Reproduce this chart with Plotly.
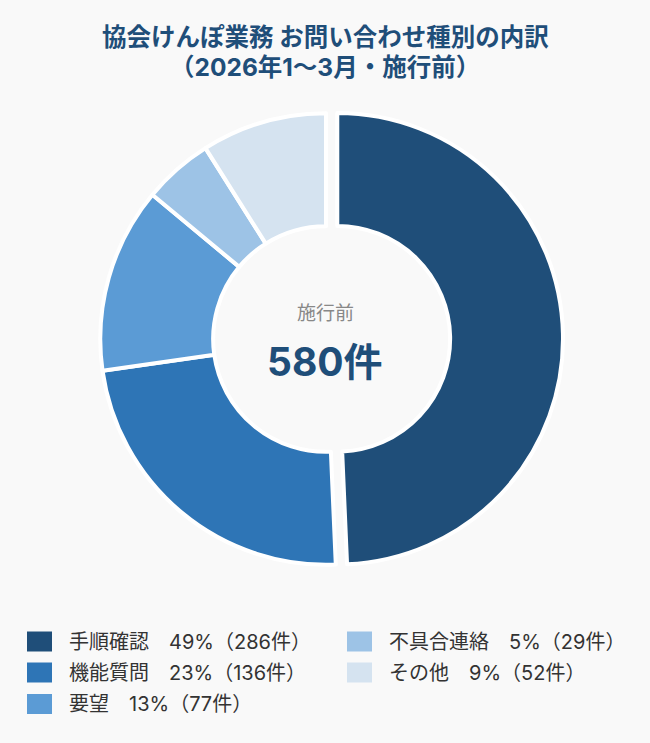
import plotly.graph_objects as go

# ---- data ----
categories = ["手順確認", "機能質問", "要望", "不具合連絡", "その他"]
counts = [286, 136, 77, 29, 52]
colors = ["#1f4e79", "#2e75b6", "#5b9bd5", "#9dc3e6", "#d5e3f0"]
title_lines = ["協会けんぽ業務 お問い合わせ種別の内訳", "（2026年1〜3月・施行前）"]
center_label = "施行前"
unit = "件"

total = sum(counts)
pcts = [round(c / total * 100) for c in counts]

W, H = 650, 743
FONT = "Inter, 'Noto Sans CJK JP', sans-serif"
BG = "#f9f9f9"

fig = go.Figure()
fig.add_trace(go.Pie(
    labels=categories,
    values=counts,
    sort=False,
    direction="clockwise",
    rotation=0,
    hole=0.5,
    pull=[0.05, 0, 0, 0, 0],
    marker=dict(colors=colors, line=dict(color="white", width=4)),
    textinfo="none",
    hoverinfo="label+value+percent",
    showlegend=False,
    domain=dict(x=[89 / W, 563 / W], y=[1 - 576 / H, 1 - 102 / H]),
))

annotations = []
shapes = []

# title (two lines placed separately)
for line, yc in zip(title_lines, [37, 67]):
    annotations.append(dict(
        text="<b>" + line + "</b>",
        x=0.5, y=1 - yc / H, xref="paper", yref="paper",
        xanchor="center", yanchor="middle", showarrow=False,
        font=dict(family=FONT, size=24.5, color="#1f4e79"),
    ))

# center texts
annotations.append(dict(
    text=center_label, x=325 / W, y=1 - 313 / H, xref="paper", yref="paper",
    xanchor="center", yanchor="middle", showarrow=False,
    font=dict(family=FONT, size=19, color="#888888"),
))
annotations.append(dict(
    text="<b>" + f"{total}{unit}" + "</b>", x=325 / W, y=1 - 361 / H,
    xref="paper", yref="paper", xanchor="center", yanchor="middle",
    showarrow=False, font=dict(family=FONT, size=39, color="#1f4e79"),
))

# custom legend (column-major, 3 rows)
rows = 3
row_y = [641.5, 672.5, 704]
col_sq_x = [27, 347]
sq_w, sq_h = 25, 20
for i, (cat, c, p, col) in enumerate(zip(categories, counts, pcts, colors)):
    ci, ri = divmod(i, rows)
    cy = row_y[ri]
    x0 = col_sq_x[ci]
    shapes.append(dict(
        type="rect", xref="paper", yref="paper",
        x0=x0 / W, x1=(x0 + sq_w) / W,
        y0=1 - (cy + sq_h / 2) / H, y1=1 - (cy - sq_h / 2) / H,
        fillcolor=col, line=dict(width=0),
    ))
    annotations.append(dict(
        text=f"{cat}\u3000{p}%（{c}{unit}）",
        x=(x0 + 40) / W, y=1 - cy / H, xref="paper", yref="paper",
        xanchor="left", yanchor="middle", showarrow=False,
        font=dict(family=FONT, size=20, color="#333333"),
    ))

fig.update_layout(
    width=W, height=H,
    margin=dict(l=0, r=0, t=0, b=0),
    paper_bgcolor=BG, plot_bgcolor=BG,
    annotations=annotations, shapes=shapes,
    showlegend=False,
)

fig.write_html(
    "out.html",
    config={"displayModeBar": False},
    post_script="document.body.style.margin='0';document.body.style.background='#f9f9f9';",
)
